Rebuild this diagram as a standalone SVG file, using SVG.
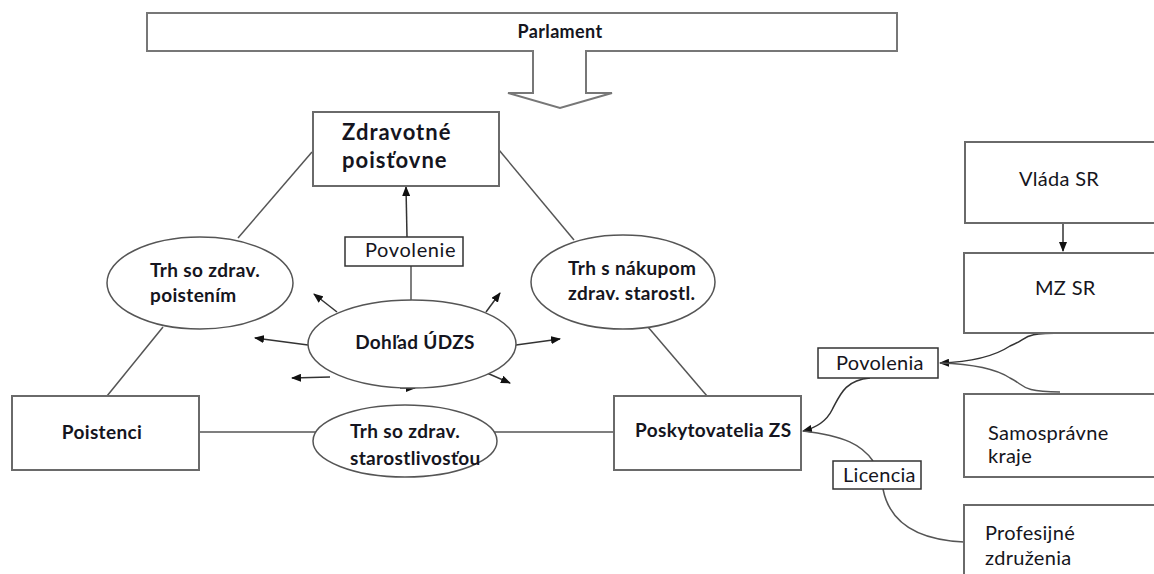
<svg xmlns="http://www.w3.org/2000/svg" width="1154" height="574" viewBox="0 0 1154 574">
<style>
text{font-family:Lato,"Liberation Sans",sans-serif;fill:#151520}
.b{font-weight:bold;font-size:19px;letter-spacing:0.35px}
.r{font-size:20px;letter-spacing:0.3px}
.box{fill:#fff;stroke:#6a6a6a;stroke-width:2}
.lbl{fill:#fff;stroke:#333;stroke-width:1.5}
.ell{fill:#fff;stroke:#555;stroke-width:1.5}
.ln{fill:none;stroke:#555;stroke-width:1.5}
.ar{fill:none;stroke:#333;stroke-width:1.5;marker-end:url(#ah)}
</style>
<defs>
<marker id="ah" markerWidth="10" markerHeight="8" refX="9" refY="4" orient="auto" markerUnits="userSpaceOnUse">
<path d="M0,0 L10,4 L0,8 z" fill="#111"/>
</marker>
</defs>
<g id="parlament">
<polygon points="147,13 897,13 897,51 586,51 586,93 612,93 560,108 508,93 533,93 533,51 147,51" fill="#fff" stroke="#777" stroke-width="2"/>
<text x="560" y="38" class="b" style="font-size:18px" text-anchor="middle">Parlament</text>
</g>
<g id="connectors">
<line class="ln" x1="312" y1="152" x2="238" y2="238"/>
<line class="ln" x1="163" y1="327" x2="107" y2="396"/>
<line class="ln" x1="499" y1="150" x2="574" y2="240"/>
<line class="ln" x1="648" y1="327" x2="707" y2="396"/>
<line class="ln" x1="199" y1="432" x2="322" y2="432"/>
<line class="ln" x1="487" y1="432" x2="614" y2="432"/>
<line class="ln" x1="411" y1="266" x2="411" y2="300"/>
<line class="ar" x1="407" y1="237" x2="406" y2="187"/>
<line class="ar" x1="337" y1="312" x2="314" y2="294"/>
<line class="ar" x1="486" y1="312" x2="500" y2="293"/>
<line class="ar" x1="308" y1="345" x2="255" y2="338"/>
<line class="ar" x1="516" y1="345" x2="560" y2="339"/>
<line class="ar" x1="330" y1="377" x2="292" y2="378"/>
<line class="ar" x1="400" y1="388" x2="415" y2="388"/>
<line class="ar" x1="487" y1="373" x2="510" y2="383"/>
<line class="ar" x1="1063" y1="223" x2="1063" y2="251"/>
<path class="ar" d="M1063,333 C1020,333 1030,338 1010,346 C995,356 970,362 940,363"/>
<path class="ln" d="M1060,392 C1020,392 1025,385 1010,378 C995,368 970,364 940,363"/>
<path class="ar" d="M870,378 C845,380 840,395 832,410 C826,422 815,428 803,431"/>
<path class="ln" d="M873,461 C862,445 845,436 803,431"/>
<path class="ln" d="M883,489 C890,525 920,540 964,542"/>
</g>
<g id="zdravotne">
<rect class="box" x="313" y="112" width="186" height="74"/>
<text x="342" y="140" class="b" style="font-size:22px;letter-spacing:1px">Zdravotné</text>
<text x="342" y="168" class="b" style="font-size:22px;letter-spacing:1px">poisťovne</text>
</g>
<g id="povolenie">
<rect class="lbl" x="345" y="237" width="118" height="29"/>
<text x="365" y="257" class="r" style="letter-spacing:0.6px">Povolenie</text>
</g>
<g id="trh-poistenim">
<ellipse class="ell" cx="200" cy="283" rx="93" ry="46"/>
<text x="150" y="277" class="b">Trh so zdrav.</text>
<text x="150" y="302" class="b">poistením</text>
</g>
<g id="trh-nakupom">
<ellipse class="ell" cx="623" cy="282" rx="92" ry="47"/>
<text x="568" y="275" class="b">Trh s nákupom</text>
<text x="568" y="300" class="b">zdrav. starostl.</text>
</g>
<g id="dohlad">
<ellipse class="ell" cx="412" cy="344" rx="104" ry="44"/>
<text x="415" y="349" class="b" text-anchor="middle">Dohľad ÚDZS</text>
</g>
<g id="poistenci">
<rect class="box" x="12" y="396" width="187" height="74"/>
<text x="102" y="439" class="b" text-anchor="middle">Poistenci</text>
</g>
<g id="trh-starostlivostou">
<ellipse class="ell" cx="405" cy="441" rx="92" ry="36"/>
<text x="350" y="438" class="b">Trh so zdrav.</text>
<text x="350" y="465" class="b">starostlivosťou</text>
</g>
<g id="poskytovatelia">
<rect class="box" x="614" y="396" width="187" height="74"/>
<text x="635" y="437" class="b">Poskytovatelia ZS</text>
</g>
<g id="vlada">
<rect class="box" x="965" y="142" width="200" height="81"/>
<text x="1019" y="186" class="r">Vláda SR</text>
</g>
<g id="mzsr">
<rect class="box" x="964" y="253" width="200" height="80"/>
<text x="1035" y="295" class="r">MZ SR</text>
</g>
<g id="povolenia">
<rect class="lbl" x="818" y="348" width="120" height="30"/>
<text x="836" y="370" class="r">Povolenia</text>
</g>
<g id="samospravne">
<rect class="box" x="964" y="394" width="200" height="83"/>
<text x="988" y="440" class="r">Samosprávne</text>
<text x="988" y="463" class="r">kraje</text>
</g>
<g id="licencia">
<rect class="lbl" x="833" y="461" width="88" height="28"/>
<text x="843" y="482" class="r">Licencia</text>
</g>
<g id="profesijne">
<rect class="box" x="964" y="505" width="200" height="80"/>
<text x="985" y="540" class="r">Profesijné</text>
<text x="985" y="565" class="r">združenia</text>
</g>
</svg>
